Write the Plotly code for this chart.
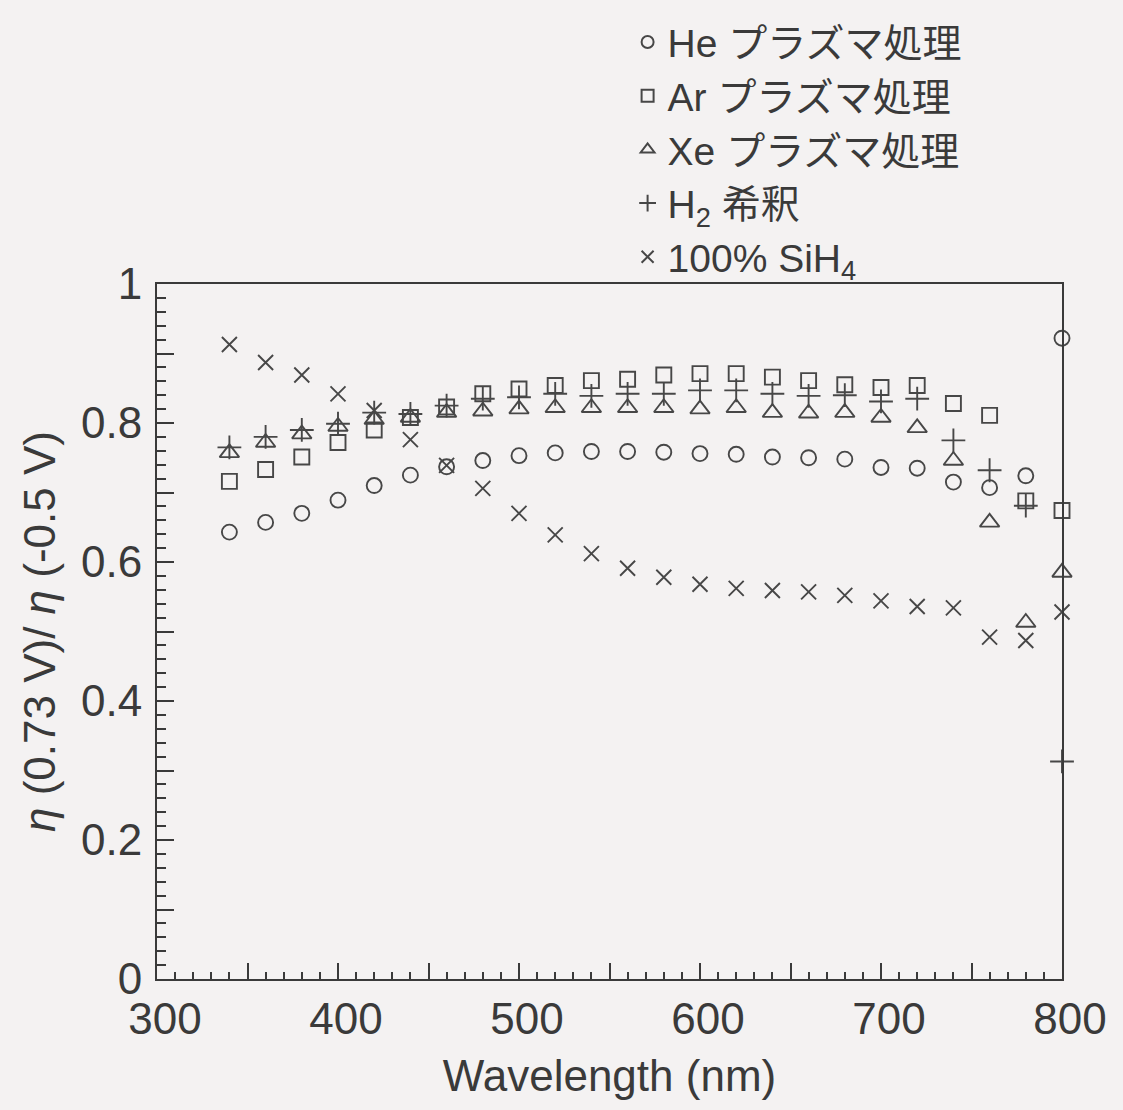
import plotly.graph_objects as go

# Wavelength grid (nm)
wavelength = [340, 360, 380, 400, 420, 440, 460, 480, 500, 520, 540, 560,
              580, 600, 620, 640, 660, 680, 700, 720, 740, 760, 780, 800]

# eta(0.73 V) / eta(-0.5 V) for each deposition condition
he_plasma = [0.643, 0.657, 0.670, 0.689, 0.710, 0.725, 0.737, 0.746, 0.753, 0.757, 0.759, 0.759,
             0.758, 0.756, 0.755, 0.751, 0.750, 0.748, 0.736, 0.735, 0.715, 0.707, 0.724, 0.922]
ar_plasma = [0.716, 0.733, 0.751, 0.772, 0.790, 0.808, 0.823, 0.842, 0.849, 0.854, 0.861, 0.863,
             0.869, 0.871, 0.871, 0.866, 0.861, 0.855, 0.851, 0.854, 0.828, 0.811, 0.688, 0.674]
xe_plasma = [0.757, 0.772, 0.784, 0.795, 0.805, 0.808, 0.815, 0.817, 0.820, 0.822, 0.822, 0.822,
             0.822, 0.820, 0.822, 0.815, 0.814, 0.815, 0.808, 0.793, 0.746, 0.657, 0.513, 0.585]
h2_dilution = [0.765, 0.780, 0.790, 0.799, 0.815, 0.813, 0.825, 0.835, 0.837, 0.842, 0.839, 0.842,
               0.842, 0.847, 0.847, 0.842, 0.839, 0.840, 0.831, 0.835, 0.775, 0.732, 0.681, 0.313]
sih4_100 = [0.913, 0.887, 0.869, 0.842, 0.818, 0.776, 0.739, 0.706, 0.670, 0.639, 0.612, 0.591,
            0.578, 0.568, 0.562, 0.559, 0.557, 0.552, 0.544, 0.536, 0.534, 0.492, 0.487, 0.528]

series_names = ["He プラズマ処理", "Ar プラズマ処理", "Xe プラズマ処理",
                "H<sub>2</sub> 希釈", "100% SiH<sub>4</sub>"]

# Labelled ticks; unlabelled half-step ticks go on an overlaid axis
x_label_ticks = [300, 400, 500, 600, 700, 800]
x_half_ticks = [350, 450, 550, 650, 750]
y_label_ticks = [0, 0.2, 0.4, 0.6, 0.8, 1.0]
y_half_ticks = [0.1, 0.3, 0.5, 0.7, 0.9]

INK = "#3a3a3a"
MARK = "#474747"
BG = "#f4f2f2"
FONT = "Liberation Sans, Arial, Noto Sans CJK JP, sans-serif"

styles = [
    ("circle-open", 15),
    ("square-open", 15),
    ("triangle-up-open", 17),
    ("cross-thin-open", 17),
    ("x-thin-open", 15),
]
data = [he_plasma, ar_plasma, xe_plasma, h2_dilution, sih4_100]

fig = go.Figure()
for name, ys, (sym, size) in zip(series_names, data, styles):
    fig.add_trace(go.Scatter(
        x=wavelength, y=ys, name=name, mode="markers",
        cliponaxis=False,
        marker=dict(symbol=sym, size=size, color=MARK,
                    line=dict(color=MARK, width=1.9)),
    ))

fig.update_layout(
    width=1123, height=1110,
    margin=dict(l=157, r=61, t=283, b=131),
    paper_bgcolor=BG, plot_bgcolor=BG,
    font=dict(family=FONT, size=44, color=INK),
    showlegend=True,
    legend=dict(
        x=0.52, xanchor="left", y=1.392, yanchor="top",
        bgcolor="rgba(0,0,0,0)", itemsizing="constant",
        font=dict(size=39, color=INK), tracegroupgap=0,
    ),
    xaxis=dict(
        range=[300, 800], showgrid=False, zeroline=False,
        showline=True, linecolor=INK, linewidth=2, mirror=True,
        tickmode="array", tickvals=x_label_ticks,
        ticks="inside", ticklen=16, tickwidth=1.5, tickcolor=INK,
        ticklabelshift=8,
        minor=dict(ticks="inside", ticklen=7, tickwidth=1.5, tickcolor=INK,
                   dtick=10, tick0=300, showgrid=False),
        title=dict(text="Wavelength (nm)", font=dict(size=44, color=INK), standoff=18),
    ),
    xaxis2=dict(
        range=[300, 800], overlaying="x", side="bottom", anchor="y",
        showgrid=False, zeroline=False, showline=False, showticklabels=False,
        tickmode="array", tickvals=x_half_ticks,
        ticks="inside", ticklen=16, tickwidth=1.5, tickcolor=INK,
    ),
    yaxis=dict(
        range=[0, 1], showgrid=False, zeroline=False,
        showline=True, linecolor=INK, linewidth=2, mirror=True,
        tickmode="array", tickvals=y_label_ticks,
        ticks="inside", ticklen=17, tickwidth=1.5, tickcolor=INK,
        ticklabelstandoff=4,
        minor=dict(ticks="inside", ticklen=9, tickwidth=1.5, tickcolor=INK,
                   dtick=0.02, tick0=0, showgrid=False),
        title=dict(text="<i>η</i> (0.73 V)/ <i>η</i> (-0.5 V)",
                   font=dict(size=44, color=INK), standoff=12),
    ),
    yaxis2=dict(
        range=[0, 1], overlaying="y", side="left", anchor="x",
        showgrid=False, zeroline=False, showline=False, showticklabels=False,
        tickmode="array", tickvals=y_half_ticks,
        ticks="inside", ticklen=17, tickwidth=1.5, tickcolor=INK,
    ),
)

# Invisible carrier so the overlaid tick axes are drawn
fig.add_trace(go.Scatter(x=[300], y=[0], xaxis="x2", yaxis="y2",
                         mode="markers", marker=dict(opacity=0),
                         showlegend=False, hoverinfo="skip"))

fig.write_html("out.html")
